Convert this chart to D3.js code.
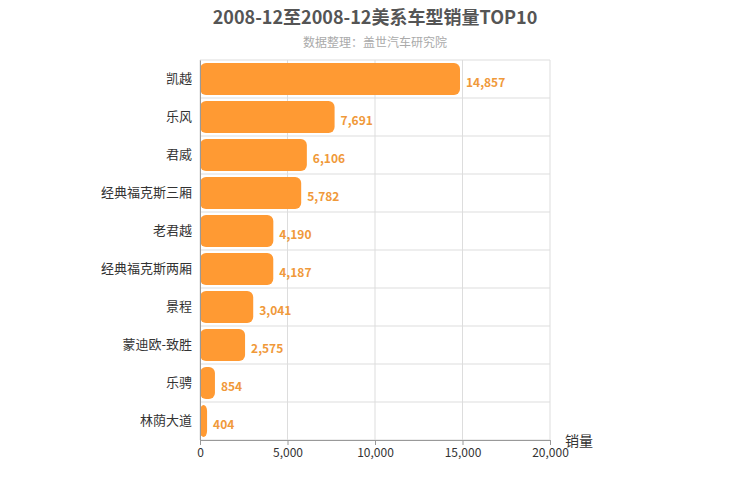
<!DOCTYPE html>
<html><head><meta charset="utf-8">
<script src="https://cdn.jsdelivr.net/npm/d3@7"></script>
<style>body{margin:0;background:#fff}text{font-family:"Noto Sans CJK SC","Noto Sans",sans-serif}</style>
</head><body><svg id="c" width="750" height="500"></svg>
<script>
const categories=["凯越","乐风","君威","经典福克斯三厢","老君越","经典福克斯两厢","景程","蒙迪欧-致胜","乐骋","林荫大道"];
const values=[14857,7691,6106,5782,4190,4187,3041,2575,854,404];
const ticks=[0,5000,10000,15000,20000];
const svg=d3.select("#c");
const L=200,R=550,T=60,B=440;
const x=d3.scaleLinear().domain([0,20000]).range([L,R]);
const y=d3.scaleBand().domain(categories).range([T,B]).paddingInner(0.16).paddingOuter(0.08);
const band=(B-T)/categories.length;
// grid
svg.append("g").selectAll("line").data(ticks).join("line")
 .attr("x1",d=>x(d)).attr("x2",d=>x(d)).attr("y1",T).attr("y2",B).attr("stroke","#ddd");
svg.append("g").selectAll("line").data(d3.range(categories.length+1)).join("line")
 .attr("x1",L).attr("x2",R).attr("y1",i=>T+i*band).attr("y2",i=>T+i*band).attr("stroke","#ddd");
// bars
svg.append("g").selectAll("rect").data(values).join("rect")
 .attr("x",L).attr("y",(d,i)=>y(categories[i])).attr("width",d=>x(d)-L).attr("height",y.bandwidth())
 .attr("rx",6).attr("fill","#ff9a33");
svg.append("g").selectAll("text").data(values).join("text")
 .attr("x",d=>x(d)+6).attr("y",(d,i)=>y(categories[i])+y.bandwidth()/2+8)
 .attr("fill","#f0993a").attr("font-size",12).attr("font-weight","bold").text(d=>d3.format(",")(d));
// y axis
const ya=svg.append("g").attr("transform",`translate(${L},0)`).call(d3.axisLeft(y).tickSize(0).tickPadding(8));
ya.select(".domain").attr("stroke","#999");
ya.selectAll("text").attr("font-size",13).attr("fill","#333");
const xa=svg.append("g").attr("transform",`translate(0,${B})`).call(d3.axisBottom(x).tickValues(ticks).tickFormat(d3.format(",")).tickSize(5));
xa.select(".domain").attr("stroke","#999");xa.selectAll("line").attr("stroke","#999");
xa.selectAll("text").attr("font-size",12).attr("fill","#333");
svg.append("text").attr("x",565).attr("y",446).attr("font-size",14).attr("fill","#333").text("销量");
svg.append("text").attr("x",375).attr("y",24).attr("text-anchor","middle").attr("font-size",18).attr("font-weight","bold").attr("fill","#555").text("2008-12至2008-12美系车型销量TOP10");
svg.append("text").attr("x",375).attr("y",47).attr("text-anchor","middle").attr("font-size",12).attr("fill","#aaa").text("数据整理：盖世汽车研究院");
</script></body></html>
